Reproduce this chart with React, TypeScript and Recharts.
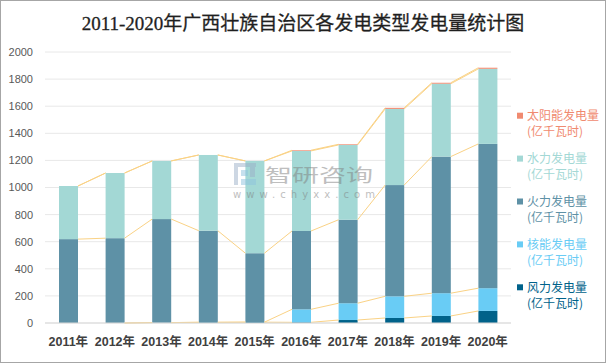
import React from 'react';
import { ComposedChart, Bar, XAxis, YAxis, CartesianGrid } from 'recharts';

// ---------- data ----------
const categories = ['2011年', '2012年', '2013年', '2014年', '2015年', '2016年', '2017年', '2018年', '2019年', '2020年'];
const windPower = [0, 0, 3, 5, 6, 5, 22, 37, 52, 89];
const nuclearPower = [0, 0, 0, 0, 0, 96, 124, 160, 168, 168];
const thermalPower = [619, 626, 764, 676, 509, 578, 616, 821, 1008, 1065];
const hydroPower = [392, 481, 429, 559, 681, 591, 552, 562, 538, 554];
const solarPower = [0, 0, 0, 0, 0, 5, 5, 8, 7, 8];
const yTicks = [0, 200, 400, 600, 800, 1000, 1200, 1400, 1600, 1800, 2000];

const seriesNames = ['太阳能发电量', '水力发电量', '火力发电量', '核能发电量', '风力发电量'];
const unitLabel = '(亿千瓦时)';
const titleText = '2011-2020年广西壮族自治区各发电类型发电量统计图';

// ---------- styles ----------
const COLORS = {
  solar: '#F08A70',
  hydro: '#A3D8D5',
  thermal: '#5E91A6',
  nuclear: '#69CCF5',
  wind: '#00628A',
};
const legendColors = [COLORS.solar, COLORS.hydro, COLORS.thermal, COLORS.nuclear, COLORS.wind];
const SERIES_LINE = '#FAD285';

const W = 606;
const H = 363;
const MARGIN = { top: 52, right: 95, bottom: 10, left: 0 };
const Y_AXIS_W = 45;
const PLOT_W = W - MARGIN.left - MARGIN.right - Y_AXIS_W;
const BAND = PLOT_W / categories.length;

const data = categories.map((year, i) => ({
  year,
  wind: windPower[i],
  nuclear: nuclearPower[i],
  thermal: thermalPower[i],
  hydro: hydroPower[i],
  solar: solarPower[i],
}));

const stackSeries = [windPower, nuclearPower, thermalPower, hydroPower, solarPower];
const cumulative: number[][] = [];
stackSeries.forEach((arr, s) => {
  cumulative.push(arr.map((v, i) => v + (s > 0 ? cumulative[s - 1][i] : 0)));
});

const PlainShape = (props: any) => {
  const { x, y, width, height, fill } = props;
  if (!height || height <= 0) return <g />;
  return <rect x={x} y={y} width={width} height={height} fill={fill} />;
};

// Hydro segment shape also draws the Excel-style "series lines" between bars
const HydroShape = (props: any) => {
  const { x, y, width, height, fill, index } = props;
  const k = height / hydroPower[index];
  const zeroY = y + height + cumulative[2][index] * k;
  const lines: any[] = [];
  if (index < categories.length - 1) {
    cumulative.forEach((cum, s) => {
      if (cum[index] === 0 && cum[index + 1] === 0) return;
      lines.push(
        <line
          key={s}
          x1={x + width}
          y1={zeroY - cum[index] * k}
          x2={x + BAND}
          y2={zeroY - cum[index + 1] * k}
          stroke={SERIES_LINE}
          strokeWidth={1}
        />
      );
    });
  }
  return (
    <g>
      <rect x={x} y={y} width={width} height={height} fill={fill} />
      {lines}
    </g>
  );
};

const LEGEND_TOP = 115.7;
const LEGEND_STEP = 42.9;

export default function App() {
  return (
    <div style={{ position: 'absolute', left: 0, top: 0, width: W, height: H, background: '#fff' }}>
      <ComposedChart width={W} height={H} data={data} margin={MARGIN}>
        <CartesianGrid vertical={false} stroke="#E8E8E8" />
        <XAxis
          dataKey="year"
          axisLine={{ stroke: '#D9D9D9' }}
          tickLine={false}
          height={30}
          tickMargin={8}
          interval={0}
          tick={{ fill: '#404040', fontSize: 12.5, fontWeight: 'bold', fontFamily: "'Liberation Sans', 'Noto Sans CJK SC', sans-serif" }}
        />
        <YAxis
          width={Y_AXIS_W}
          domain={[0, 2000]}
          ticks={yTicks}
          axisLine={false}
          tickLine={false}
          tickMargin={6}
          tick={{ fill: '#595959', fontSize: 11, fontFamily: "'Liberation Sans', sans-serif" }}
        />
        <Bar dataKey="wind" stackId="a" barSize={19} fill={COLORS.wind} isAnimationActive={false} shape={PlainShape} />
        <Bar dataKey="nuclear" stackId="a" barSize={19} fill={COLORS.nuclear} isAnimationActive={false} shape={PlainShape} />
        <Bar dataKey="thermal" stackId="a" barSize={19} fill={COLORS.thermal} isAnimationActive={false} shape={PlainShape} />
        <Bar dataKey="hydro" stackId="a" barSize={19} fill={COLORS.hydro} isAnimationActive={false} shape={HydroShape} />
        <Bar dataKey="solar" stackId="a" barSize={19} fill={COLORS.solar} isAnimationActive={false} shape={PlainShape} />
      </ComposedChart>
      <svg
        width={W}
        height={H}
        style={{ position: 'absolute', left: 0, top: 0, pointerEvents: 'none' }}
      >
        <text
          x={303}
          y={30}
          textAnchor="middle"
          fontSize={19}
          fill="#1F1F1F"
          stroke="#1F1F1F"
          strokeWidth={0.3}
          fontFamily="'Liberation Serif', 'Noto Sans CJK SC', serif"
        >
          {titleText}
        </text>
        {/* watermark */}
        <g opacity={0.5}>
          <rect x={234} y={163} width={22} height={4} fill="#9DB0C8" />
          <rect x={234} y={163} width={4} height={22} fill="#9DB0C8" />
          <rect x={241} y={170} width={7} height={6} fill="#8FC3DE" />
          <rect x={250} y={167} width={5} height={10} fill="#9DB0C8" />
          <rect x={241} y={179} width={15} height={6} fill="#8FC3DE" />
          <text
            x={265}
            y={182}
            fontSize={18}
            textLength={108}
            lengthAdjust="spacingAndGlyphs"
            fill="#7F7F7F"
            fontFamily="'Noto Sans CJK SC', sans-serif"
          >
            智研咨询
          </text>
          <text
            x={233}
            y={198}
            fontSize={10}
            textLength={142}
            lengthAdjust="spacing"
            fill="#7F7F7F"
            fontFamily="'DejaVu Sans', sans-serif"
          >
            www.chyxx.com
          </text>
        </g>
        {/* legend */}
        {seriesNames.map((name, i) => {
          const cy = LEGEND_TOP + i * LEGEND_STEP;
          return (
            <g key={name} fontFamily="'Noto Sans CJK SC', sans-serif" fontSize={12} fill={legendColors[i]}>
              <rect x={517} y={cy - 3} width={6} height={6} fill={legendColors[i]} />
              <text x={527} y={cy + 4.5}>{name}</text>
              <text x={527} y={cy + 20.5}>{unitLabel}</text>
            </g>
          );
        })}
      </svg>
      <div
        style={{
          position: 'absolute',
          left: 0,
          top: 0,
          width: W,
          height: H,
          boxSizing: 'border-box',
          border: '1px solid #A6A6A6',
          pointerEvents: 'none',
        }}
      />
    </div>
  );
}
